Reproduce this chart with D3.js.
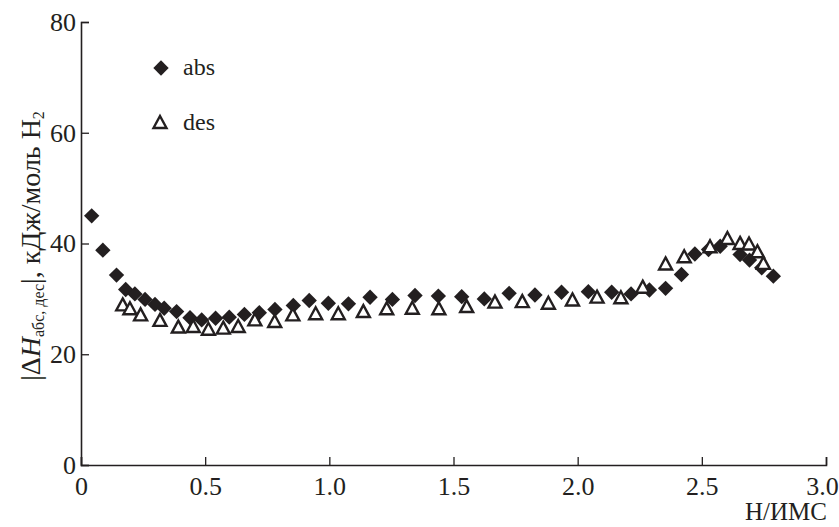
<!DOCTYPE html>
<html>
<head>
<meta charset="utf-8">
<script src="https://cdn.jsdelivr.net/npm/d3@7"></script>
<style>
  body { margin: 0; background: #fff; }
</style>
</head>
<body>
<div id="chart"></div>
<script>
// abs (filled diamonds)
const absX = [0.043, 0.088, 0.143, 0.180, 0.217, 0.258, 0.298, 0.335, 0.385, 0.439,
  0.486, 0.542, 0.597, 0.658, 0.718, 0.781, 0.855, 0.919, 0.996, 1.077,
  1.164, 1.254, 1.345, 1.439, 1.533, 1.624, 1.724, 1.828, 1.935, 2.043,
  2.137, 2.215, 2.289, 2.354, 2.418, 2.472, 2.527, 2.574, 2.654, 2.692,
  2.741, 2.788];
const absY = [45.0, 38.8, 34.3, 31.7, 30.9, 29.9, 29.0, 28.3, 27.7, 26.6,
  26.2, 26.5, 26.7, 27.2, 27.5, 28.1, 28.8, 29.7, 29.2, 29.1,
  30.3, 29.9, 30.6, 30.5, 30.4, 30.0, 31.0, 30.7, 31.2, 31.3,
  31.2, 30.9, 31.6, 31.9, 34.4, 38.1, 38.9, 39.5, 38.0, 37.0,
  35.6, 34.1];

// des (open triangles)
const desX = [0.168, 0.197, 0.240, 0.318, 0.392, 0.452, 0.513, 0.573, 0.633, 0.700,
  0.780, 0.853, 0.945, 1.036, 1.137, 1.231, 1.334, 1.441, 1.553, 1.667,
  1.777, 1.882, 1.979, 2.078, 2.174, 2.262, 2.354, 2.429, 2.533, 2.603,
  2.654, 2.690, 2.724, 2.748];
const desY = [29.0, 28.3, 27.2, 26.2, 25.0, 25.1, 24.6, 24.8, 25.1, 26.3,
  26.0, 27.2, 27.4, 27.4, 27.8, 28.3, 28.4, 28.3, 28.7, 29.5,
  29.6, 29.3, 29.9, 30.4, 30.3, 32.2, 36.4, 37.7, 39.5, 41.0,
  40.1, 40.0, 38.6, 36.5];

const xTicks = [0, 0.5, 1.0, 1.5, 2.0, 2.5, 3.0];
const yTicks = [0, 20, 40, 60, 80];

const width = 839, height = 527;
const margin = {top: 22, right: 13, bottom: 62, left: 81};
const serif = "'Liberation Serif', 'Times New Roman', Tinos, 'DejaVu Serif', serif";

let svg = d3.select("#chart").append("svg")
    .attr("width", width)
    .attr("height", height)
    .attr("font-family", serif);

let x = d3.scaleLinear().domain([0, 3]).range([margin.left, width - margin.right]);
let y = d3.scaleLinear().domain([0, 80]).range([height - margin.bottom, margin.top]);

let ink = "#231f20";

// x axis, ticks pointing inward
let gx = svg.append("g")
    .attr("transform", "translate(0," + y(0) + ")")
    .call(d3.axisBottom(x).tickValues(xTicks).tickSize(-8).tickPadding(14)
        .tickFormat(d => d === 0 ? "0" : d3.format(".1f")(d)));
gx.attr("font-family", serif).attr("font-size", 26);
gx.select(".domain").attr("stroke", ink).attr("stroke-width", 1.6);
gx.selectAll(".tick line").attr("stroke", ink).attr("stroke-width", 1.3);
gx.selectAll(".tick text").attr("dy", "0.62em").attr("fill", ink)
    .attr("dx", d => d === 3 ? -4 : 0);

// y axis
let gy = svg.append("g")
    .attr("transform", "translate(" + x(0) + ",0)")
    .call(d3.axisLeft(y).tickValues(yTicks).tickSize(-8).tickPadding(5));
gy.attr("font-family", serif).attr("font-size", 26);
gy.select(".domain").attr("stroke", ink).attr("stroke-width", 1.6);
gy.selectAll(".tick line").attr("stroke", ink).attr("stroke-width", 1.3);
gy.selectAll(".tick text").attr("fill", ink);

// markers
let diamond = d3.symbol().type(d3.symbolSquare).size(118);
let absData = absX.map((d, i) => [d, absY[i]]);
let desData = desX.map((d, i) => [d, desY[i]]);

svg.append("g").selectAll("path")
    .data(absData)
    .join("path")
    .attr("d", diamond)
    .attr("transform", d => "translate(" + x(d[0]) + "," + y(d[1]) + ") rotate(45)")
    .attr("fill", ink);

// triangle centred on its bounding box
function tri(cx, cy) {
    let w = 6.5, h = 6;
    return "M" + cx + "," + (cy - h) + "L" + (cx + w) + "," + (cy + h) + "L" + (cx - w) + "," + (cy + h) + "Z";
}

svg.append("g").selectAll("path")
    .data(desData)
    .join("path")
    .attr("d", d => tri(x(d[0]), y(d[1])))
    .attr("fill", "#fff")
    .attr("stroke", ink)
    .attr("stroke-width", 2.4);

// legend
svg.append("path")
    .attr("d", diamond)
    .attr("transform", "translate(161,68) rotate(45)")
    .attr("fill", ink);
svg.append("text").attr("x", 183).attr("y", 75).attr("font-size", 24).attr("fill", ink).text("abs");
svg.append("path")
    .attr("d", tri(160, 122))
    .attr("fill", "#fff").attr("stroke", ink).attr("stroke-width", 2.4);
svg.append("text").attr("x", 183).attr("y", 130).attr("font-size", 24).attr("fill", ink).text("des");

// axis titles
let yl = svg.append("text")
    .attr("transform", "translate(40,246) rotate(-90)")
    .attr("text-anchor", "middle")
    .attr("font-size", 28)
    .attr("fill", ink);
yl.append("tspan").text("|Δ");
yl.append("tspan").attr("font-style", "italic").text("H");
yl.append("tspan").attr("font-size", 16).attr("dy", 4).text("абс, дес");
yl.append("tspan").attr("dy", -4).text("|, кДж/моль H");
yl.append("tspan").attr("font-size", 16).attr("dy", 4).text("2");

svg.append("text")
    .attr("x", x(3) + 1)
    .attr("y", 520)
    .attr("text-anchor", "end")
    .attr("font-size", 25)
    .attr("fill", ink)
    .text("Н/ИМС");
</script>
</body>
</html>
